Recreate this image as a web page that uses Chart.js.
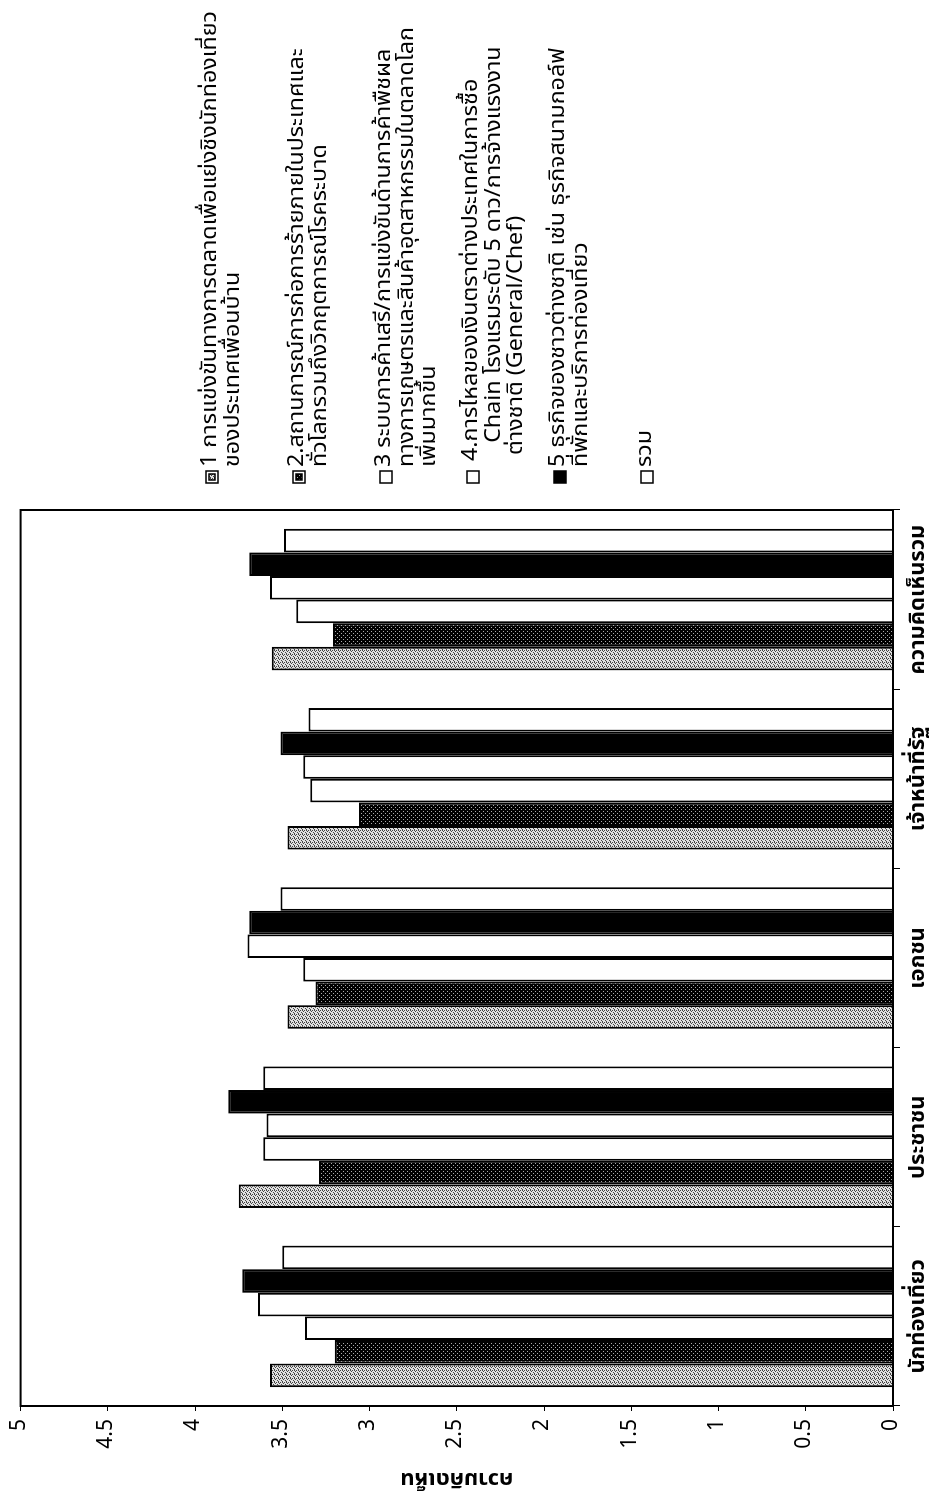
<!DOCTYPE html>
<html>
<head>
<meta charset="utf-8">
<script src="https://cdn.jsdelivr.net/npm/chart.js@4/dist/chart.umd.min.js"></script>
<style>
  html, body { margin: 0; padding: 0; background: #fff; overflow: hidden; width: 941px; height: 1495px; }
  #wrap { position: absolute; left: 0; top: 0; width: 1495px; height: 941px;
          transform-origin: 0 0; transform: translate(0, 1495px) rotate(-90deg); background: #fff; }
</style>
</head>
<body>
<div id="wrap"><canvas id="c" width="1495" height="941"></canvas></div>
<script>
// ---------------- data ----------------
const categories = ['นักท่องเที่ยว', 'ประชาชน', 'เอกชน', 'เจ้าหน้าที่รัฐ', 'ความคิดเห็นรวม'];
const seriesNames = [
  '1 การแข่งขันทางการตลาดเพื่อแย่งชิงนักท่องเที่ยวของประเทศเพื่อนบ้าน',
  '2.สถานการณ์การก่อการร้ายภายในประเทศและทั่วโลกรวมถึงวิกฤตการณ์โรคระบาด',
  '3 ระบบการค้าเสรี/การแข่งขันด้านการค้าพืชผลทางการเกษตรและสินค้าอุตสาหกรรมในตลาดโลกเพิ่มมากขึ้น',
  '4.การไหลของเงินตราต่างประเทศในการซื้อ Chain โรงแรมระดับ 5 ดาว/การจ้างแรงงานต่างชาติ (General/Chef)',
  '5 ธุรกิจของชาวต่างชาติ เช่น ธุรกิจสนามกอล์ฟ ที่พักและบริการท่องเที่ยว',
  'รวม'
];
const legendLines = [
  ['1 การแข่งขันทางการตลาดเพื่อแย่งชิงนักท่องเที่ยว', 'ของประเทศเพื่อนบ้าน'],
  ['2.สถานการณ์การก่อการร้ายภายในประเทศและ', 'ทั่วโลกรวมถึงวิกฤตการณ์โรคระบาด'],
  ['3 ระบบการค้าเสรี/การแข่งขันด้านการค้าพืชผล', 'ทางการเกษตรและสินค้าอุตสาหกรรมในตลาดโลก', 'เพิ่มมากขึ้น'],
  [' 4.การไหลของเงินตราต่างประเทศในการซื้อ', '    Chain โรงแรมระดับ 5 ดาว/การจ้างแรงงาน', '  ต่างชาติ (General/Chef)'],
  ['5 ธุรกิจของชาวต่างชาติ เช่น ธุรกิจสนามกอล์ฟ', 'ที่พักและบริการท่องเที่ยว'],
  ['รวม']
];
const series1 = [3.57, 3.75, 3.47, 3.47, 3.56];
const series2 = [3.20, 3.29, 3.31, 3.06, 3.21];
const series3 = [3.37, 3.61, 3.38, 3.34, 3.42];
const series4 = [3.64, 3.59, 3.70, 3.38, 3.57];
const series5 = [3.73, 3.81, 3.69, 3.51, 3.69];
const series6 = [3.50, 3.61, 3.51, 3.35, 3.49];
const valueTickLabels = ['0', '0.5', '1', '1.5', '2', '2.5', '3', '3.5', '4', '4.5', '5'];
const axisTitle = 'ความคิดเห็น';

// ---------------- styles ----------------
const FONT = "'Noto Sans Thai', 'Noto Sans Thai UI', Loma, Garuda, 'Noto Sans', 'DejaVu Sans', sans-serif";
function makePattern(bg, fg, cells) {
  const p = document.createElement('canvas');
  p.width = 4; p.height = 4;
  const g = p.getContext('2d');
  g.fillStyle = bg; g.fillRect(0, 0, 4, 4);
  g.fillStyle = fg;
  cells.forEach(([x, y]) => g.fillRect(x, y, 1, 1));
  return g.createPattern(p, 'repeat');
}
const ctx = document.getElementById('c').getContext('2d');
const pat1 = makePattern('#e0e0e0', '#444', [[0,0],[2,1],[1,2],[3,3],[0,2]]);
const pat2 = makePattern('#000', '#aaa', [[1,1],[3,3]]);
const fills = [pat1, pat2, '#fff', '#fff', '#000', '#fff'];
const seriesData = [series1, series2, series3, series4, series5, series6];

// ---------------- plugins ----------------
const framePlugin = {
  id: 'frame',
  afterDatasetsDraw(chart) {
    const a = chart.chartArea, c = chart.ctx;
    c.save();
    c.strokeStyle = '#000'; c.lineWidth = 2;
    c.strokeRect(a.left, a.top, a.right - a.left, a.bottom - a.top);
    c.restore();
  }
};
const legendPlugin = {
  id: 'sideLegend',
  afterDraw(chart) {
    const c = chart.ctx;
    const LX = 1012, LTOP = 212, LSTEP = 87, LH = 22.5, MS = 12, TEXT_W = 456;
    c.save();
    c.font = '21px ' + FONT;
    const sx = TEXT_W / c.measureText(legendLines[0][0]).width;
    c.textBaseline = 'middle';
    c.textAlign = 'left';
    chart.data.datasets.forEach((ds, i) => {
      const v0 = LTOP + i * LSTEP;
      const mx = LX, my = v0 - MS / 2;
      c.lineWidth = 1.5; c.strokeStyle = '#000';
      if (i === 0 || i === 1) {
        c.fillStyle = '#fff'; c.fillRect(mx, my, MS, MS); c.strokeRect(mx, my, MS, MS);
        c.fillStyle = ds.backgroundColor; c.fillRect(mx + 3, my + 3, MS - 6, MS - 6);
        c.strokeRect(mx + 3, my + 3, MS - 6, MS - 6);
      } else {
        c.fillStyle = ds.backgroundColor; c.fillRect(mx, my, MS, MS); c.strokeRect(mx, my, MS, MS);
      }
      c.fillStyle = '#000';
      legendLines[i].forEach((line, k) => {
        c.save();
        c.translate(LX + 16, v0 + k * LH);
        c.scale(sx, 1);
        c.fillText(line, 0, 0);
        c.restore();
      });
    });
    c.restore();
  }
};

// ---------------- chart ----------------
new Chart(ctx, {
  type: 'bar',
  data: {
    labels: categories,
    datasets: seriesData.map((d, i) => ({
      label: seriesNames[i],
      data: d,
      backgroundColor: fills[i],
      borderColor: '#000',
      borderWidth: 2,
      categoryPercentage: 0.79,
      barPercentage: 1.0
    }))
  },
  options: {
    responsive: false,
    devicePixelRatio: 1,
    animation: false,
    layout: { padding: { left: 0, right: 510, top: 18, bottom: 0 } },
    plugins: { legend: { display: false }, tooltip: { enabled: false } },
    scales: {
      x: {
        type: 'category',
        ticks: { font: { size: 22, weight: 'bold', family: FONT }, color: '#000', padding: 6, maxRotation: 0, minRotation: 0, autoSkip: false },
        grid: { display: true, drawOnChartArea: false, drawTicks: true, tickLength: 7, color: '#000', offset: true },
        border: { display: true, color: '#000', width: 2 },
        afterFit(s) { s.height = 48; }
      },
      y: {
        min: 0, max: 5,
        ticks: { stepSize: 0.5, font: { size: 21, family: FONT }, color: '#000', padding: 8,
                 callback: (v, i) => valueTickLabels[i] },
        grid: { display: true, drawOnChartArea: false, drawTicks: true, tickLength: 5, color: '#000' },
        border: { display: true, color: '#000', width: 2 },
        title: { display: true, text: axisTitle, color: '#000', font: { size: 22, weight: 'bold', family: FONT }, padding: { top: 4, bottom: 0 } },
        afterFit(s) { s.width = 89; }
      }
    }
  },
  plugins: [framePlugin, legendPlugin]
});
</script>
</body>
</html>
